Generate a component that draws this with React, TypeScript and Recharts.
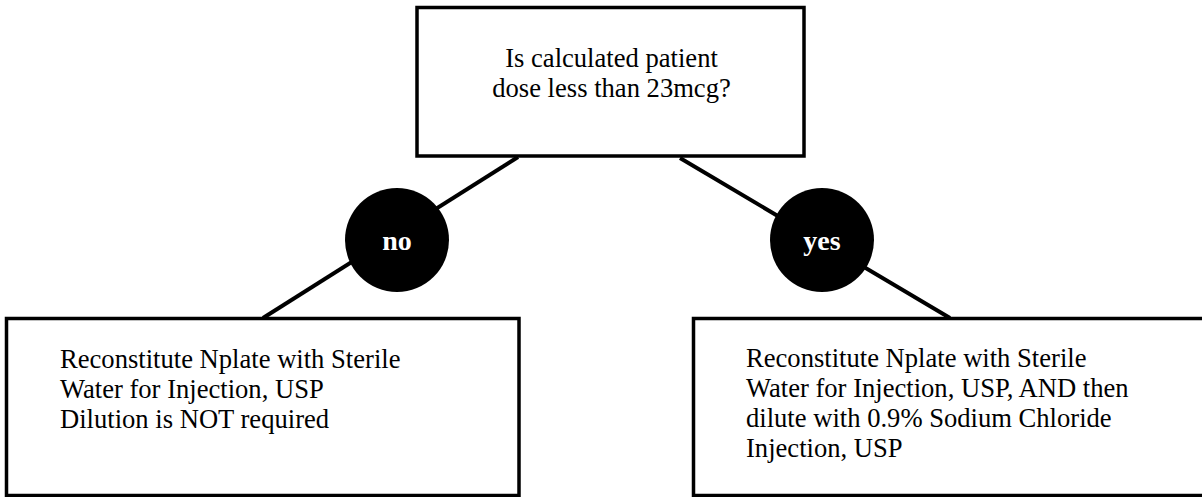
import {
  ComposedChart,
  XAxis,
  YAxis,
  Line,
  Scatter,
  ReferenceArea,
} from "recharts";

// flowchart content
const questionLines = ["Is calculated patient", "dose less than 23mcg?"];
const branchLabels = ["no", "yes"];
const noLines = [
  "Reconstitute Nplate with Sterile",
  "Water for Injection, USP",
  "Dilution is NOT required",
];
const yesLines = [
  "Reconstitute Nplate with Sterile",
  "Water for Injection, USP, AND then",
  "dilute with 0.9% Sodium Chloride",
  "Injection, USP",
];

// layout (page pixels, mapped 1:1 by the axes)
const W = 1202;
const H = 497;
const FONT = '"Liberation Serif", "Times New Roman", serif';
const LINE_GAP = 30;

const boxes = [
  { x1: 417, x2: 804, y1: 7.5, y2: 156 },
  { x1: 6.5, x2: 519, y1: 318.5, y2: 495.5 },
  { x1: 693.5, x2: 1230, y1: 318.5, y2: 495.5 },
];

const connectorNo = [
  { x: 518, y: 157 },
  { x: 263, y: 318 },
];
const connectorYes = [
  { x: 680, y: 158 },
  { x: 950, y: 318 },
];

const branchPos = [
  { x: 397, y: 240 },
  { x: 822, y: 240 },
];

const textBlocks = [
  { lines: questionLines, x: 611.5, y: 66.7, anchor: "middle" },
  { lines: noLines, x: 60, y: 367.7, anchor: "start" },
  { lines: yesLines, x: 746, y: 366.7, anchor: "start" },
];

const branchData = branchLabels.map((label, i) => ({ ...branchPos[i], label }));
const textData = textBlocks.map((b) => ({ x: b.x, y: b.y, lines: b.lines, anchor: b.anchor }));

function BranchShape(props: any) {
  const { cx, cy, payload } = props;
  return (
    <g>
      <circle cx={cx} cy={cy} r={52} fill="#000" />
      <text
        x={cx}
        y={cy + 10}
        textAnchor="middle"
        fill="#fff"
        fontFamily={FONT}
        fontWeight="bold"
        fontSize={28}
      >
        {payload.label}
      </text>
    </g>
  );
}

function TextShape(props: any) {
  const { cx, cy, payload } = props;
  return (
    <text
      x={cx}
      y={cy}
      textAnchor={payload.anchor}
      fill="#000"
      fontFamily={FONT}
      fontSize={26.6}
    >
      {payload.lines.map((line: string, i: number) => (
        <tspan key={i} x={cx} y={cy + i * LINE_GAP}>
          {line}
        </tspan>
      ))}
    </text>
  );
}

export default function App() {
  return (
    <div style={{ position: "absolute", left: 0, top: 0, background: "#fff" }}>
      <ComposedChart
        width={W}
        height={H}
        margin={{ top: 0, right: 0, bottom: 0, left: 0 }}
      >
        <XAxis type="number" dataKey="x" domain={[0, W]} hide />
        <YAxis type="number" dataKey="y" domain={[0, H]} reversed hide />
        {boxes.map((b, i) => (
          <ReferenceArea
            key={i}
            x1={b.x1}
            x2={b.x2}
            y1={b.y1}
            y2={b.y2}
            fill="#fff"
            fillOpacity={1}
            stroke="#000"
            strokeWidth={3.5}
            ifOverflow="visible"
          />
        ))}
        <Line
          data={connectorNo}
          dataKey="y"
          stroke="#000"
          strokeWidth={4}
          dot={false}
          activeDot={false}
          isAnimationActive={false}
        />
        <Line
          data={connectorYes}
          dataKey="y"
          stroke="#000"
          strokeWidth={4}
          dot={false}
          activeDot={false}
          isAnimationActive={false}
        />
        <Scatter
          data={branchData}
          dataKey="y"
          shape={<BranchShape />}
          isAnimationActive={false}
        />
        <Scatter
          data={textData}
          dataKey="y"
          shape={<TextShape />}
          isAnimationActive={false}
        />
      </ComposedChart>
    </div>
  );
}
